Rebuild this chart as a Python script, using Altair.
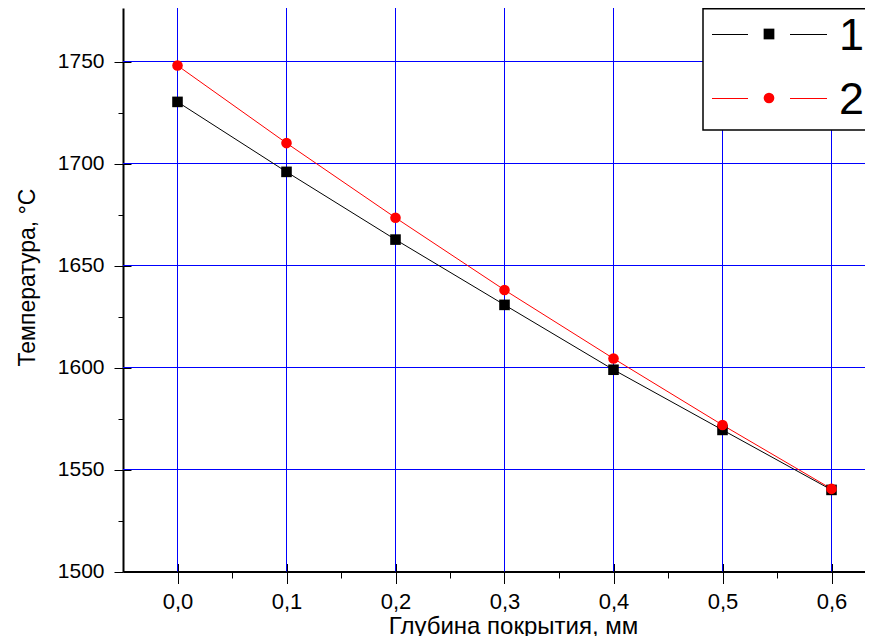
import altair as alt
import pandas as pd

# ---- data ----
depth = [0.0, 0.1, 0.2, 0.3, 0.4, 0.5, 0.6]
temp_1 = [1730.2, 1695.9, 1662.7, 1630.7, 1598.9, 1569.4, 1540.0]
temp_2 = [1748.0, 1710.0, 1673.4, 1638.0, 1604.4, 1571.8, 1540.5]
series_names = ["1", "2"]
series_colors = ["#000000", "#ff0000"]
series_shapes = ["square", "circle"]

x_major = [0.0, 0.1, 0.2, 0.3, 0.4, 0.5, 0.6]
x_minor = [0.05, 0.15, 0.25, 0.35, 0.45, 0.55]
y_major = [1500, 1550, 1600, 1650, 1700, 1750]
y_minor = [1525, 1575, 1625, 1675, 1725]

x_title = "Глубина покрытия, мм"
y_title = "Температура, °C"

df = pd.DataFrame({
    "depth": depth + depth,
    "temp": temp_1 + temp_2,
    "series": [series_names[0]] * len(depth) + [series_names[1]] * len(depth),
})
legend_df = pd.DataFrame({"series": series_names})
xgrid_df = pd.DataFrame({"v": x_major})
ygrid_df = pd.DataFrame({"v": y_major[1:]})

FONT = "Liberation Sans"
GRID = "#0000ff"

# plot area: 742 x 563.5 px; 0.1 mm = 109 px, 50 °C = 102 px
W, H = 742, 563.5
xs = alt.Scale(domain=[-0.05, W / 1090 - 0.05], nice=False, zero=False)
ys = alt.Scale(domain=[1500, 1500 + H / 2.04], nice=False, zero=False)
cs = alt.Scale(domain=series_names, range=series_colors)
ss = alt.Scale(domain=series_names, range=series_shapes)

main_x_axis = alt.Axis(
    values=x_major, orient="bottom", grid=False,
    domain=True, domainColor="black", domainWidth=2,
    ticks=True, tickColor="black", tickSize=12, tickWidth=1,
    labelExpr="replace(format(datum.value, '.1f'), '.', ',')",
    labelFont=FONT, labelFontSize=22, labelColor="black", labelBaseline="alphabetic",
    labelPadding=25, labelFlush=False, labelOverlap=False,
    title=x_title, titleFont=FONT, titleFontSize=24, titleFontWeight="normal", titleColor="black",
    titleX=390, titleY=62, titleAlign="center", titleBaseline="alphabetic",
)
main_y_axis = alt.Axis(
    values=y_major, orient="left", grid=False,
    domain=True, domainColor="black", domainWidth=2,
    ticks=True, tickColor="black", tickSize=9, tickWidth=1,
    format="d", labelFont=FONT, labelFontSize=21, labelColor="black",
    labelPadding=10, labelFlush=False, labelOverlap=False,
    title=y_title, titleFont=FONT, titleFontSize=23, titleFontWeight="normal", titleColor="black",
    titleAngle=270, titleX=-96, titleY=269, titleAlign="center", titleBaseline="middle",
)
inner_x_axis = alt.Axis(values=x_major, orient="bottom", offset=-8, tickSize=8, tickColor="black",
                        tickWidth=1, domain=False, labels=False, grid=False, title=None)
inner_y_axis = alt.Axis(values=y_major, orient="left", offset=-8, tickSize=8, tickColor="black",
                        tickWidth=1, domain=False, labels=False, grid=False, title=None)
minor_x_axis = alt.Axis(values=x_minor, orient="bottom", tickSize=6.5, tickColor="black",
                        tickWidth=1, domain=False, labels=False, grid=False, title=None)
minor_y_axis = alt.Axis(values=y_minor, orient="left", tickSize=5, tickColor="black",
                        tickWidth=1, domain=False, labels=False, grid=False, title=None)

# ---- blue grid ----
xgrid = alt.Chart(xgrid_df).mark_rule(color=GRID, strokeWidth=1).encode(
    x=alt.X("v:Q", scale=xs, axis=inner_x_axis)
)
ygrid = alt.Chart(ygrid_df).mark_rule(color=GRID, strokeWidth=1).encode(
    y=alt.Y("v:Q", scale=ys, axis=inner_y_axis)
)

base = alt.Chart(df)

lines = base.mark_line(strokeWidth=1).encode(
    x=alt.X("depth:Q", scale=xs, axis=main_x_axis),
    y=alt.Y("temp:Q", scale=ys, axis=main_y_axis),
    color=alt.Color("series:N", scale=cs, legend=None),
)

points = base.mark_point(filled=True, opacity=1, size=112).encode(
    x=alt.X("depth:Q", scale=xs, axis=minor_x_axis),
    y=alt.Y("temp:Q", scale=ys, axis=minor_y_axis),
    color=alt.Color("series:N", scale=cs, legend=None),
    shape=alt.Shape("series:N", scale=ss, legend=None),
)

# ---- legend box (decoration, in pixels of the plot area) ----
LX0, LX1 = 580, 760          # box left / right (right is beyond the visible edge)
LY0, LY1 = 0.75, 122         # box top / bottom
ROW_Y = [26, 90]             # row centres
SEG_L = (589, 625)           # left line segment
SEG_R = (667, 704)           # right line segment
SYM_X = 646
LABEL_X = 716

box = alt.Chart(legend_df).mark_rect(fill="white", stroke="black", strokeWidth=1.5).encode(
    x=alt.value(LX0), x2=alt.value(LX1), y=alt.value(LY0), y2=alt.value(LY1)
).transform_filter(alt.datum.series == series_names[0])

legend_layers = [box]
for i, name in enumerate(series_names):
    src = alt.Chart(legend_df).transform_filter(alt.datum.series == name)
    for a, b in (SEG_L, SEG_R):
        legend_layers.append(
            src.mark_rule(color=series_colors[i], strokeWidth=1).encode(
                x=alt.value(a), x2=alt.value(b), y=alt.value(ROW_Y[i] + 0.5)
            )
        )
    legend_layers.append(
        src.mark_point(filled=True, opacity=1, size=115, shape=series_shapes[i],
                       color=series_colors[i]).encode(x=alt.value(SYM_X), y=alt.value(ROW_Y[i]))
    )
    legend_layers.append(
        src.mark_text(font=FONT, fontSize=45, color="black", align="left", baseline="middle").encode(
            x=alt.value(LABEL_X), y=alt.value(ROW_Y[i] + 2), text="series:N"
        )
    )

chart = alt.layer(xgrid, ygrid, lines, points, *legend_layers).resolve_axis(
    x="independent", y="independent"
).properties(
    width=W, height=H,
    autosize=alt.AutoSizeParams(type="none"),
    padding={"left": 115, "top": 0, "right": 0, "bottom": 64},
    background="white",
).configure_view(stroke=None)

chart.save("out.html", embed_options={"renderer": "svg", "actions": False})
